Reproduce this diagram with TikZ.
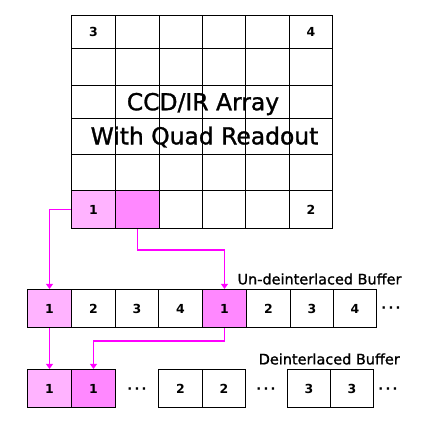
\documentclass[tikz,border=0pt]{standalone}
\usepackage{fontspec}
\setmainfont{DejaVu Sans}
\newfontfamily\heavyfont[FakeBold=1.2]{DejaVu Sans}
\usetikzlibrary{arrows.meta}
\definecolor{pinkA}{HTML}{FFB3FF}
\definecolor{pinkB}{HTML}{FF88FF}
\definecolor{wire}{HTML}{FF00FF}
\tikzset{
  cellbox/.style={draw=black, line width=1.2bp, inner sep=0pt, font=\bfseries\fontsize{12.5}{14}\selectfont},
  wirearrow/.style={draw=wire, line width=1.5bp, -{Triangle[length=5bp,width=7bp]}},
  title/.style={font=\heavyfont\fontsize{23.5}{26}\selectfont},
  buflabel/.style={font=\heavyfont\fontsize{14.5}{16}\selectfont},
  dotsl/.style={font=\bfseries\fontsize{13}{14}\selectfont}
}
% name, x1, y1, x2, y2, fill, text
\newcommand\mycell[7]{%
  \node[cellbox, fill=#6, minimum width={#4bp-#2bp}, minimum height={#5bp-#3bp}]
    (#1) at ({(#2+#4)/2},{(#3+#5)/2}) {#7};}
\begin{document}
\begin{tikzpicture}[x=1bp,y=-1bp]
\useasboundingbox[fill=white] (0,0) rectangle (421,421);
% grid
\def\xs{{71.5,115.5,159.5,202.5,245.5,289.5,332.5}}
\def\ys{{15.5,48.5,85.5,118.5,154.5,190.5,228.5}}
\foreach \r in {1,...,6}{
  \foreach \c in {1,...,6}{
    \pgfmathsetmacro\xa{\xs[\c-1]}
    \pgfmathsetmacro\xb{\xs[\c]}
    \pgfmathsetmacro\ya{\ys[\r-1]}
    \pgfmathsetmacro\yb{\ys[\r]}
    \mycell{g\r\c}{\xa}{\ya}{\xb}{\yb}{white}{}
  }
}
\node[cellbox, draw=none, fill=none] at (g11) {3};
\node[cellbox, draw=none, fill=none] at (g16) {4};
\mycell{g61}{71.5}{190.5}{115.5}{228.5}{pinkA}{1}
\mycell{g62}{115.5}{190.5}{159.5}{228.5}{pinkB}{}
\node[cellbox, draw=none, fill=none] at (g66) {2};
\node[title] (t1) at (203,104) {CCD/IR Array};
\node[title] (t2) at (204.5,137) {With Quad Readout};
% un-deinterlaced buffer
\mycell{b1}{27.5}{289.5}{71.5}{327.5}{pinkA}{1}
\mycell{b2}{71.5}{289.5}{115.5}{327.5}{white}{2}
\mycell{b3}{115.5}{289.5}{158.5}{327.5}{white}{3}
\mycell{b4}{158.5}{289.5}{202.5}{327.5}{white}{4}
\mycell{b5}{202.5}{289.5}{246.5}{327.5}{pinkB}{1}
\mycell{b6}{246.5}{289.5}{290.5}{327.5}{white}{2}
\mycell{b7}{290.5}{289.5}{333.5}{327.5}{white}{3}
\mycell{b8}{333.5}{289.5}{376.5}{327.5}{white}{4}
\node[dotsl] (bd) at (391,310) {·\,·\,·};
\node[buflabel] (bl) at (319.5,279) {Un-deinterlaced Buffer};
% deinterlaced buffer
\mycell{d1}{27.5}{369.5}{71.5}{407.5}{pinkA}{1}
\mycell{d2}{71.5}{369.5}{115.5}{407.5}{pinkB}{1}
\node[dotsl] (dd1) at (137,391) {·\,·\,·};
\mycell{d3}{158.5}{369.5}{202.5}{407.5}{white}{2}
\mycell{d4}{202.5}{369.5}{245.5}{407.5}{white}{2}
\node[dotsl] (dd2) at (266,391) {·\,·\,·};
\mycell{d5}{287.5}{369.5}{330.5}{407.5}{white}{3}
\mycell{d6}{330.5}{369.5}{373.5}{407.5}{white}{3}
\node[dotsl] (dd3) at (388,391) {·\,·\,·};
\node[buflabel] (dl) at (329.3,359) {Deinterlaced Buffer};
% connectors
\draw[wirearrow] (g61.west) -| (b1.north);
\draw[wirearrow] (g62.south) -- ++(0,21) -| (b5.north);
\draw[wirearrow] (b1.south) -- (d1.north);
\draw[wirearrow] (b5.south) -- ++(0,13) -| (d2.north);
\end{tikzpicture}
\end{document}
